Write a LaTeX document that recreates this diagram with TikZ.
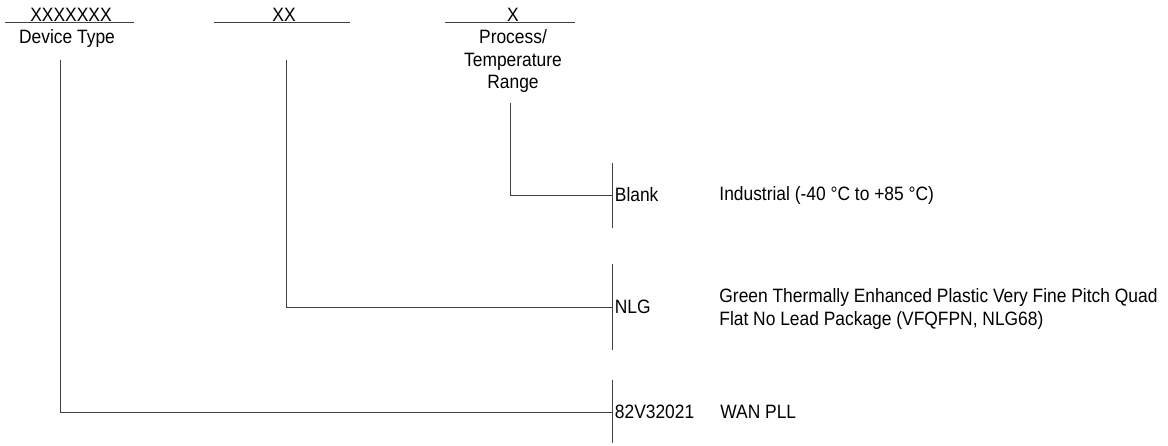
\documentclass[tikz,border=0pt]{standalone}
\usepackage{fontspec}
\setmainfont{Liberation Sans}[FakeStretch=0.9]
\usetikzlibrary{positioning}
\tikzstyle{field} = [anchor=base, inner sep=0pt]
\tikzstyle{caption} = [anchor=north, inner sep=0pt, align=center]
\tikzstyle{option} = [anchor=west, inner sep=1.5pt]
\tikzstyle{desc} = [anchor=west, inner sep=0pt, align=left]
\tikzstyle{tap} = [coordinate]

\begin{document}
\begin{tikzpicture}[x=0.6pt, y=-0.6pt, font=\fontsize{11.6}{13.6}\selectfont, line width=0.5pt, draw=black!75]
		\useasboundingbox (0,0) rectangle (1168,445);
		
		% fields of the part number
		\node [field] (fdev) at (71,21) {XXXXXXX};
		\node [field] (fpkg) at (284,21) {XX};
		\node [field] (ftemp) at (513,21) {X};
		\draw (5,22) -- (134,22);
		\draw (214,22) -- (350,22);
		\draw (445,22) -- (575,22);
		\node [field] (cdev) at (67,43) {Device Type};
		\node [caption] (ctemp) at (513,29) {Process/\\Temperature\\Range};
		
		% options
		\node [option] (oblank) at (612,195) {Blank};
		\node [option] (onlg) at (612,307) {NLG};
		\node [option] (o82) at (612,412) {82V32021};
		\node [desc] (dblank) at (719,195) {Industrial (-40 °C to +85 °C)};
		\node [desc] (dnlg) at (719,309) {Green Thermally Enhanced Plastic Very Fine Pitch Quad\\Flat No Lead Package (VFQFPN, NLG68)};
		\node [desc] (d82) at (720,412) {WAN PLL};
		
		% bars
		\draw (oblank.west) ++(0,-32) -- ++(0,65);
		\draw (onlg.west) ++(0,-43) -- ++(0,86);
		\draw (o82.west) ++(0,-32) -- ++(0,63);
		
		% connectors
		\node [tap] (tdev) at (60,60) {};
		\node [tap] (tpkg) at (286,60) {};
		\node [tap] (ttemp) at (510,103) {};
		\draw (tdev) |- (o82.west);
		\draw (tpkg) |- (onlg.west);
		\draw (ttemp) |- (oblank.west);
		
		\end{tikzpicture}
\end{document}
